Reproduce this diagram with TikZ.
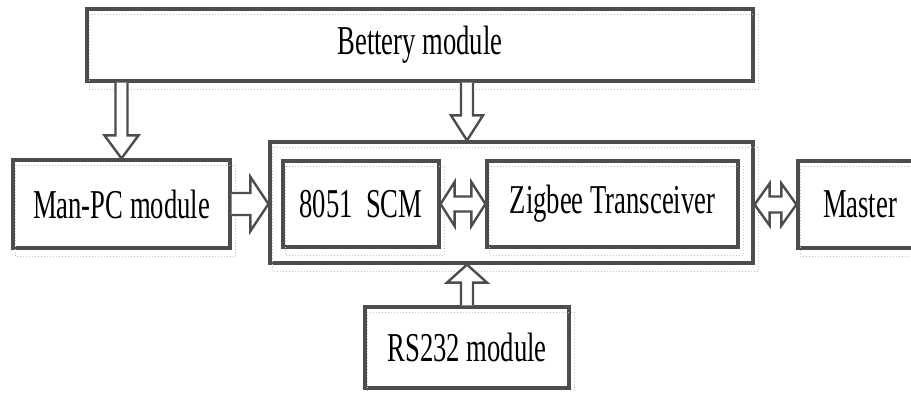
\documentclass[tikz,border=0pt]{standalone}
\usepackage{fontspec}
\setmainfont{Liberation Serif}[FakeStretch=0.65]
\usetikzlibrary{calc}
\definecolor{ln}{HTML}{4D4D4D}
\definecolor{gh}{HTML}{C4C4C4}
\tikzset{
  blk/.style={draw=ln, line width=3.2pt, inner sep=0pt, font=\fontsize{41}{44}\selectfont},
  ghost/.style={draw=gh, line width=1pt, dotted},
  barrow/.style={draw=ln, line width=2.4pt, fill=white, line join=miter},
}
% vertical down block arrow: from, to, shaft half, head half, head length
\newcommand\dnarrow[5]{\draw[barrow] let \p1=(#1), \p2=(#2) in
  ({\x1-#3pt},\y1) -- ({\x1-#3pt},{\y2+#5pt}) -- ({\x1-#4pt},{\y2+#5pt}) -- (\x1,\y2)
  -- ({\x1+#4pt},{\y2+#5pt}) -- ({\x1+#3pt},{\y2+#5pt}) -- ({\x1+#3pt},\y1);}
\newcommand\uparrowblk[5]{\draw[barrow] let \p1=(#1), \p2=(#2) in
  ({\x1-#3pt},\y1) -- ({\x1-#3pt},{\y2-#5pt}) -- ({\x1-#4pt},{\y2-#5pt}) -- (\x1,\y2)
  -- ({\x1+#4pt},{\y2-#5pt}) -- ({\x1+#3pt},{\y2-#5pt}) -- ({\x1+#3pt},\y1);}
\newcommand\rtarrow[5]{\draw[barrow] let \p1=(#1), \p2=(#2) in
  (\x1,{\y1+#3pt}) -- ({\x2-#5pt},{\y1+#3pt}) -- ({\x2-#5pt},{\y1+#4pt}) -- (\x2,\y1)
  -- ({\x2-#5pt},{\y1-#4pt}) -- ({\x2-#5pt},{\y1-#3pt}) -- (\x1,{\y1-#3pt});}
\newcommand\dblarrow[5]{\draw[barrow] let \p1=(#1), \p2=(#2) in
  (\x1,\y1) -- ({\x1+#5pt},{\y1+#4pt}) -- ({\x1+#5pt},{\y1+#3pt}) -- ({\x2-#5pt},{\y1+#3pt})
  -- ({\x2-#5pt},{\y1+#4pt}) -- (\x2,\y1) -- ({\x2-#5pt},{\y1-#4pt}) -- ({\x2-#5pt},{\y1-#3pt})
  -- ({\x1+#5pt},{\y1-#3pt}) -- ({\x1+#5pt},{\y1-#4pt}) -- cycle;}
\begin{document}
\begin{tikzpicture}[x=1pt,y=-1pt]
\useasboundingbox (0,0) rectangle (911,392);
\clip (0,0) rectangle (911,392);
\fill[white] (0,0) rectangle (911,392);
% boxes
\node[blk, minimum width=666pt, minimum height=72pt] (bat) at (420,45) {Bettery module};
\node[blk, minimum width=217pt, minimum height=88pt] (man) at (121.5,204) {Man-PC module};
\node[blk, minimum width=483pt, minimum height=121pt] (box) at (511.5,202.5) {};
\node[blk, minimum width=156pt, minimum height=86pt] (scm) at (361,204) {8051\ \ SCM};
\node[blk, minimum width=251pt, minimum height=86pt] (zig) at (612.5,204) {Zigbee Transceiver};
\node[blk, minimum width=124pt, minimum height=87pt] (mas) at (860,204.5) {Master};
\node[blk, minimum width=204pt, minimum height=81pt] (rs) at (467,347.5) {RS232 module};
% ghost outlines
\foreach \n in {bat,man,box,scm,zig,mas,rs}
  \draw[ghost] ([shift={(4,7)}]\n.north west) rectangle ([shift={(4,7)}]\n.south east);
% block arrows
\dnarrow{man.north |- bat.south}{man.north}{6}{17}{23}
\dnarrow{rs.north |- bat.south}{rs.north |- box.north}{6}{16}{25}
\rtarrow{man.east}{man.east -| box.west}{11}{27}{18}
\dblarrow{scm.east}{zig.west}{7.5}{22}{14}
\dblarrow{box.east |- mas.west}{mas.west}{8}{21}{15}
\uparrowblk{rs.north}{rs.north |- box.south}{6}{20}{18}
\end{tikzpicture}
\end{document}
